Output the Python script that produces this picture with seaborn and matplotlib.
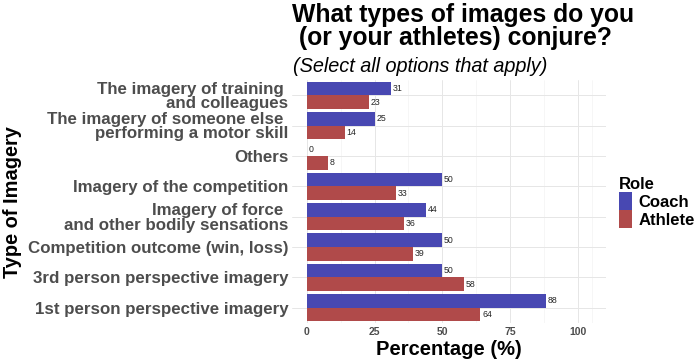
import matplotlib
matplotlib.use("Agg")
import matplotlib.pyplot as plt
import seaborn as sns
import pandas as pd

categories = [
    "The imagery of training \nand colleagues",
    "The imagery of someone else \nperforming a motor skill",
    "Others",
    "Imagery of the competition",
    "Imagery of force \nand other bodily sensations",
    "Competition outcome (win, loss)",
    "3rd person perspective imagery",
    "1st person perspective imagery",
]
coach = [31, 25, 0, 50, 44, 50, 50, 88]
athlete = [23, 14, 8, 33, 36, 39, 58, 64]
roles = ["Coach", "Athlete"]
colors = {"Coach": "#4848b2", "Athlete": "#b04a4a"}
x_ticks = [0, 25, 50, 75, 100]

df = pd.DataFrame({
    "Type": categories * 2,
    "Role": ["Coach"] * len(categories) + ["Athlete"] * len(categories),
    "Percentage": coach + athlete,
})

sns.set_theme(style="whitegrid")
plt.rcParams["font.family"] = ["Liberation Sans", "DejaVu Sans"]
plt.rcParams["text.color"] = "black"

W, H = 697, 361
fig = plt.figure(figsize=(W / 100, H / 100), dpi=100)
pl, pr, pt, pb = 292.4, 606, 80, 323
ax = fig.add_axes([pl / W, 1 - pb / H, (pr - pl) / W, (pb - pt) / H])

sns.barplot(data=df, y="Type", x="Percentage", hue="Role", order=categories,
            hue_order=roles, palette=colors, width=0.9, orient="h",
            saturation=1, linewidth=0, ax=ax, legend=True)

for cont in ax.containers:
    ax.bar_label(cont, fmt="%d", padding=1.2, fontsize=6.3, color="#262626")

ax.set_xlim(-5.25, 110.25)
ax.set_xticks(x_ticks)
ax.set_xticks([12.5, 37.5, 62.5, 87.5, 105], minor=True)
ax.grid(True, which="major", color="#e6e6e6", linewidth=0.7)
ax.grid(True, which="minor", axis="x", color="#f0f0f0", linewidth=0.4)
ax.set_axisbelow(True)
for s in ax.spines.values():
    s.set_visible(False)
ax.tick_params(axis="both", which="both", length=0)
ax.tick_params(axis="y", pad=3)
ax.tick_params(axis="x", pad=3)

for lab in ax.get_yticklabels():
    lab.set_fontsize(12.2)
    lab.set_fontweight("bold")
    lab.set_color("#4d4d4d")
    lab.set_linespacing(0.95)
for lab in ax.get_xticklabels():
    lab.set_fontsize(7.5)
    lab.set_fontweight("bold")
    lab.set_color("#4d4d4d")

ax.set_xlabel("Percentage (%)", fontsize=14.5, fontweight="bold", color="black", labelpad=2)
ax.set_ylabel("")
fig.text(13 / W, 1 - 202 / H, "Type of Imagery", rotation=90, fontsize=14.4,
         fontweight="bold", ha="center", va="center", color="black")

fig.text(pl / W, 1 - 3 / H, "What types of images do you\n (or your athletes) conjure?",
         fontsize=17.8, fontweight="bold", ha="left", va="top", linespacing=0.95,
         color="black")
fig.text(pl / W + 1 / W, 1 - 67 / H, "(Select all options that apply)", fontsize=14.3,
         style="italic", ha="left", va="center", color="black")

handles, labels = ax.get_legend_handles_labels()
ax.get_legend().remove()
leg = fig.legend(handles, labels, title="Role", loc="upper left",
                 bbox_to_anchor=(619 / W, 1 - 177 / H), frameon=False,
                 handlelength=0.75, handleheight=1.3, labelspacing=0.0,
                 handletextpad=0.4, borderaxespad=0, borderpad=0,
                 prop={"weight": "bold", "size": 12},
                 title_fontproperties={"weight": "bold", "size": 12},
                 alignment="left")
for t in leg.get_texts():
    t.set_color("black")
leg.get_title().set_color("black")

fig.savefig("out.png", dpi=100)
